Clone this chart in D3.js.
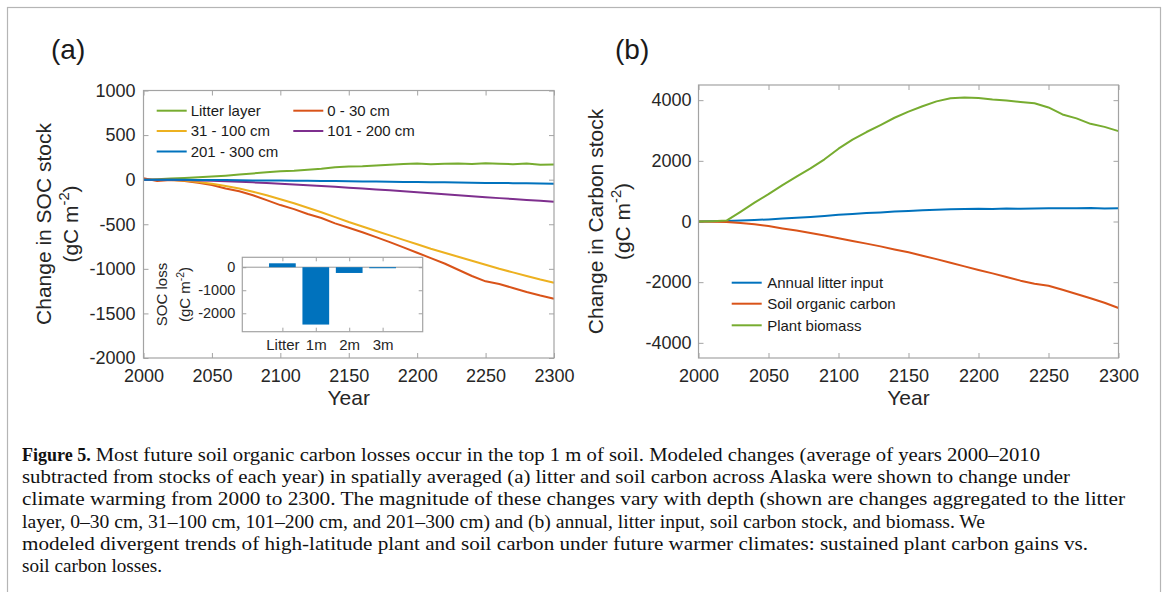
<!DOCTYPE html>
<html><head><meta charset="utf-8">
<script src="https://cdn.jsdelivr.net/npm/d3@7"></script>
<style>body{margin:0;background:#fff} svg{display:block}</style>
</head><body>
<script>
// ---------------- DATA ----------------
const years = [2000,2010,2020,2030,2040,2050,2060,2070,2080,2090,2100,2110,2120,2130,2140,2150,2160,2170,2180,2190,2200,2210,2220,2230,2240,2250,2260,2270,2280,2290,2300];
// panel (a): change in SOC stock by layer (gC m-2)
const litterLayer = [0,5,12,20,28,35,45,58,70,82,95,100,112,122,140,148,150,160,168,175,180,172,178,182,175,185,178,174,180,168,170];
const soil0_30    = [15,-15,-5,-15,-35,-60,-100,-130,-175,-230,-285,-330,-385,-430,-490,-540,-590,-645,-700,-760,-820,-880,-940,-1010,-1080,-1140,-1170,-1215,-1260,-1300,-1335];
const soil31_100  = [0,0,-3,-10,-25,-45,-70,-100,-135,-175,-220,-265,-315,-365,-420,-475,-525,-575,-625,-675,-725,-775,-820,-865,-910,-955,-1000,-1040,-1080,-1120,-1155];
const soil101_200 = [0,0,-2,-5,-8,-12,-17,-23,-30,-37,-45,-53,-62,-71,-80,-90,-100,-110,-120,-131,-142,-153,-164,-175,-186,-197,-207,-217,-227,-237,-247];
const soil201_300 = [0,0,-1,-2,-3,-4,-5,-6,-8,-9,-10,-12,-13,-15,-16,-18,-20,-21,-23,-25,-27,-28,-30,-32,-34,-36,-37,-39,-41,-43,-45];
const seriesNamesA = ["Litter layer","0 - 30 cm","31 - 100 cm","101 - 200 cm","201 - 300 cm"];
// inset: SOC loss by depth
const insetCategories = ["Litter","1m","2m","3m"];
const insetValues = [170,-2490,-250,-45];
// panel (b): change in carbon stock (gC m-2)
const annualLitterInput = [0,5,15,30,50,70,95,120,150,185,220,250,280,300,330,350,370,385,400,410,420,415,425,420,430,440,435,440,445,430,435];
const soilOrganicCarbon = [0,-10,-20,-50,-90,-150,-230,-300,-380,-460,-550,-640,-730,-820,-920,-1015,-1130,-1240,-1360,-1480,-1600,-1710,-1830,-1950,-2050,-2120,-2250,-2390,-2530,-2680,-2850];
const plantBiomass = [0,10,30,320,620,900,1200,1480,1750,2050,2400,2700,2950,3180,3420,3620,3800,3960,4060,4090,4070,4020,3990,3940,3900,3760,3530,3400,3220,3120,2980];
const seriesNamesB = ["Annual litter input","Soil organic carbon","Plant biomass"];
// ticks
const xTicks = [2000,2050,2100,2150,2200,2250,2300];
const yTicksA = [-2000,-1500,-1000,-500,0,500,1000];
const yTicksB = [-4000,-2000,0,2000,4000];
const insetYTicks = [-2000,-1000,0];
const captionLines = [
 "Most future soil organic carbon losses occur in the top 1 m of soil. Modeled changes (average of years 2000–2010",
 "subtracted from stocks of each year) in spatially averaged (a) litter and soil carbon across Alaska were shown to change under",
 "climate warming from 2000 to 2300. The magnitude of these changes vary with depth (shown are changes aggregated to the litter",
 "layer, 0–30 cm, 31–100 cm, 101–200 cm, and 201–300 cm) and (b) annual, litter input, soil carbon stock, and biomass. We",
 "modeled divergent trends of high-latitude plant and soil carbon under future warmer climates: sustained plant carbon gains vs.",
 "soil carbon losses."
];

// ---------------- STYLE / LAYOUT ----------------
const C = {blue:"#0072BD", red:"#D95319", yellow:"#EDB120", purple:"#7E2F8E", green:"#77AC30"};
const SANS = "'Liberation Sans', Arial, Helvetica, sans-serif";
const SERIF = "'Liberation Serif', 'Times New Roman', serif";
const TXT = "#262626", BOX = "#a3a3a3";

const svg = d3.select("body").append("svg").attr("width",1170).attr("height",592);
svg.append("rect").attr("width",1170).attr("height",592).attr("fill","#fff");
svg.append("rect").attr("x",7.5).attr("y",7.5).attr("width",1153).attr("height",620)
  .attr("fill","none").attr("stroke","#b5b5b5").attr("stroke-width",1.2);

function axes(x, y, xt, yt, fs, tick, pad) {
  const [x0,x1] = x.range(), [y0,y1] = y.range();
  const g = svg.append("g");
  g.append("rect").attr("x",x0).attr("y",y1).attr("width",x1-x0).attr("height",y0-y1).attr("fill","#fff");
  const fmt = d => String(d);
  const L = g.append("g").attr("transform",`translate(${x0},0)`).call(d3.axisLeft(y).tickValues(yt).tickSize(-tick).tickPadding(pad).tickFormat(fmt));
  const R = g.append("g").attr("transform",`translate(${x1},0)`).call(d3.axisRight(y).tickValues(yt).tickSize(-tick).tickFormat(""));
  const B = g.append("g").attr("transform",`translate(0,${y0})`).call(d3.axisBottom(x).tickValues(xt).tickSize(-tick).tickPadding(pad).tickFormat(typeof xt.fmt==="function"?xt.fmt:fmt));
  const T = g.append("g").attr("transform",`translate(0,${y1})`).call(d3.axisTop(x).tickValues(xt).tickSize(-tick).tickFormat(""));
  [L,R,B,T].forEach(a=>{
    a.select(".domain").remove();
    a.selectAll(".tick line").attr("stroke",BOX).attr("stroke-width",1);
    a.selectAll("text").attr("fill",TXT).attr("font-family",SANS).attr("font-size",fs);
  });
  return {g, L, B, box: ()=>svg.append("rect").attr("x",x0).attr("y",y1).attr("width",x1-x0).attr("height",y0-y1).attr("fill","none").attr("stroke",BOX).attr("stroke-width",1.2)};
}

function ylabel(cy, baselines, main, fs) {
  svg.append("text").attr("transform",`translate(${baselines[0]},${cy}) rotate(-90)`)
    .attr("text-anchor","middle").attr("font-family",SANS).attr("font-size",fs).attr("fill",TXT).text(main);
  const t2 = svg.append("text").attr("transform",`translate(${baselines[1]},${cy}) rotate(-90)`)
    .attr("text-anchor","middle").attr("font-family",SANS).attr("font-size",fs).attr("fill",TXT);
  t2.append("tspan").text("(gC m");
  t2.append("tspan").attr("dy",-fs*0.42).attr("font-size",fs*0.7).text("-2");
  t2.append("tspan").attr("dy",fs*0.42).text(")");
}

// ---------------- PANEL A ----------------
const xA = d3.scaleLinear().domain([2000,2300]).range([143.5,554]);
const yA = d3.scaleLinear().domain([-2000,1000]).range([358,90.5]);
const axA = axes(xA, yA, xTicks, yTicksA, 18, 5, 8);
axA.B.selectAll("text").attr("dy","0.71em").attr("y",11);
const lineA = d3.line().x((d,i)=>xA(years[i])).y(d=>yA(d));
const seriesA = [litterLayer, soil0_30, soil31_100, soil101_200, soil201_300];
const colorsA = [C.green, C.red, C.yellow, C.purple, C.blue];
seriesA.forEach((s,k)=>{
  svg.append("path").datum(s).attr("d",lineA).attr("fill","none").attr("stroke",colorsA[k]).attr("stroke-width",2).attr("stroke-linejoin","round");
});
const legA = [[156.7,110.7],[293.3,110.7],[156.7,131],[293.3,131],[156.7,151.5]];
seriesNamesA.forEach((n,k)=>{
  const [lx,ly] = legA[k];
  svg.append("line").attr("x1",lx).attr("x2",lx+30).attr("y1",ly).attr("y2",ly).attr("stroke",colorsA[k]).attr("stroke-width",2);
  svg.append("text").attr("x",lx+34).attr("y",ly+5.3).attr("font-family",SANS).attr("font-size",15).attr("fill","#1a1a1a").text(n);
});
axA.box();
svg.append("text").attr("x",51).attr("y",59).attr("font-family",SANS).attr("font-size",28).attr("fill","#1a1a1a").text("(a)");
ylabel(224, [50.5, 77.5], "Change in SOC stock", 21);
svg.append("text").attr("x",(143.5+554)/2).attr("y",405).attr("text-anchor","middle").attr("font-family",SANS).attr("font-size",21).attr("fill",TXT).text("Year");

// inset
const xI = d3.scaleLinear().domain([-0.2,5.2]).range([242.3,422.7]);
const yI = d3.scaleLinear().domain([-2800,430]).range([331.7,257.3]);
const insetPos = insetCategories.map((c,i)=>i+1);
const xt = insetPos.slice(); xt.fmt = d => insetCategories[d-1];
const axI = axes(xI, yI, xt, insetYTicks, 14.5, 4, 7);
axI.B.selectAll("text").attr("font-size",15).attr("y",8).attr("dy","0.71em");
svg.append("line").attr("x1",242.3).attr("x2",422.7).attr("y1",yI(0)).attr("y2",yI(0)).attr("stroke","#9a9a9a").attr("stroke-width",1);
svg.append("g").selectAll("rect").data(insetValues).join("rect")
  .attr("x",(d,i)=>xI(insetPos[i]-0.4)).attr("width",xI(0.8)-xI(0))
  .attr("y",d=>yI(Math.max(0,d))).attr("height",d=>Math.abs(yI(d)-yI(0)))
  .attr("fill",C.blue);
axI.box();
ylabel(294.5, [167, 190], "SOC loss", 15);

// ---------------- PANEL B ----------------
const xB = d3.scaleLinear().domain([2000,2300]).range([698.5,1118.5]);
const yB = d3.scaleLinear().domain([-4500,4500]).range([358,85]);
const axB = axes(xB, yB, xTicks, yTicksB, 18, 5, 7);
axB.B.selectAll("text").attr("dy","0.71em").attr("y",11);
const lineB = d3.line().x((d,i)=>xB(years[i])).y(d=>yB(d));
const seriesB = [annualLitterInput, soilOrganicCarbon, plantBiomass];
const colorsB = [C.blue, C.red, C.green];
seriesB.forEach((s,k)=>{
  svg.append("path").datum(s).attr("d",lineB).attr("fill","none").attr("stroke",colorsB[k]).attr("stroke-width",2).attr("stroke-linejoin","round");
});
const legB = [[731.7,282.7],[731.7,303.7],[731.7,325.3]];
seriesNamesB.forEach((n,k)=>{
  const [lx,ly] = legB[k];
  svg.append("line").attr("x1",lx).attr("x2",lx+30).attr("y1",ly).attr("y2",ly).attr("stroke",colorsB[k]).attr("stroke-width",2);
  svg.append("text").attr("x",lx+35.5).attr("y",ly+5.3).attr("font-family",SANS).attr("font-size",15).attr("fill","#1a1a1a").text(n);
});
axB.box();
svg.append("text").attr("x",615).attr("y",59).attr("font-family",SANS).attr("font-size",28).attr("fill","#1a1a1a").text("(b)");
ylabel(221.5, [603, 630], "Change in Carbon stock", 21);
svg.append("text").attr("x",(698.5+1118.5)/2).attr("y",405).attr("text-anchor","middle").attr("font-family",SANS).attr("font-size",21).attr("fill",TXT).text("Year");

// ---------------- CAPTION ----------------
const capX = 22, capY0 = 461, capDy = 22.2, capFS = 18;
const capEnds = [1040, 1070, 1125, 985, 1088, 162];
const bold = svg.append("text").attr("x",capX).attr("y",capY0).attr("font-family",SERIF).attr("font-size",capFS)
  .attr("font-weight","bold").attr("fill","#111").text("Figure 5.");
const bw = bold.node().getComputedTextLength();
captionLines.forEach((s,i)=>{
  const x0 = i===0 ? capX + bw + 5 : capX;
  svg.append("text").attr("x",x0).attr("y",capY0+i*capDy).attr("font-family",SERIF).attr("font-size",capFS)
    .attr("fill","#111").attr("textLength",capEnds[i]-x0).attr("lengthAdjust","spacingAndGlyphs").text(s);
});
</script>
</body></html>
